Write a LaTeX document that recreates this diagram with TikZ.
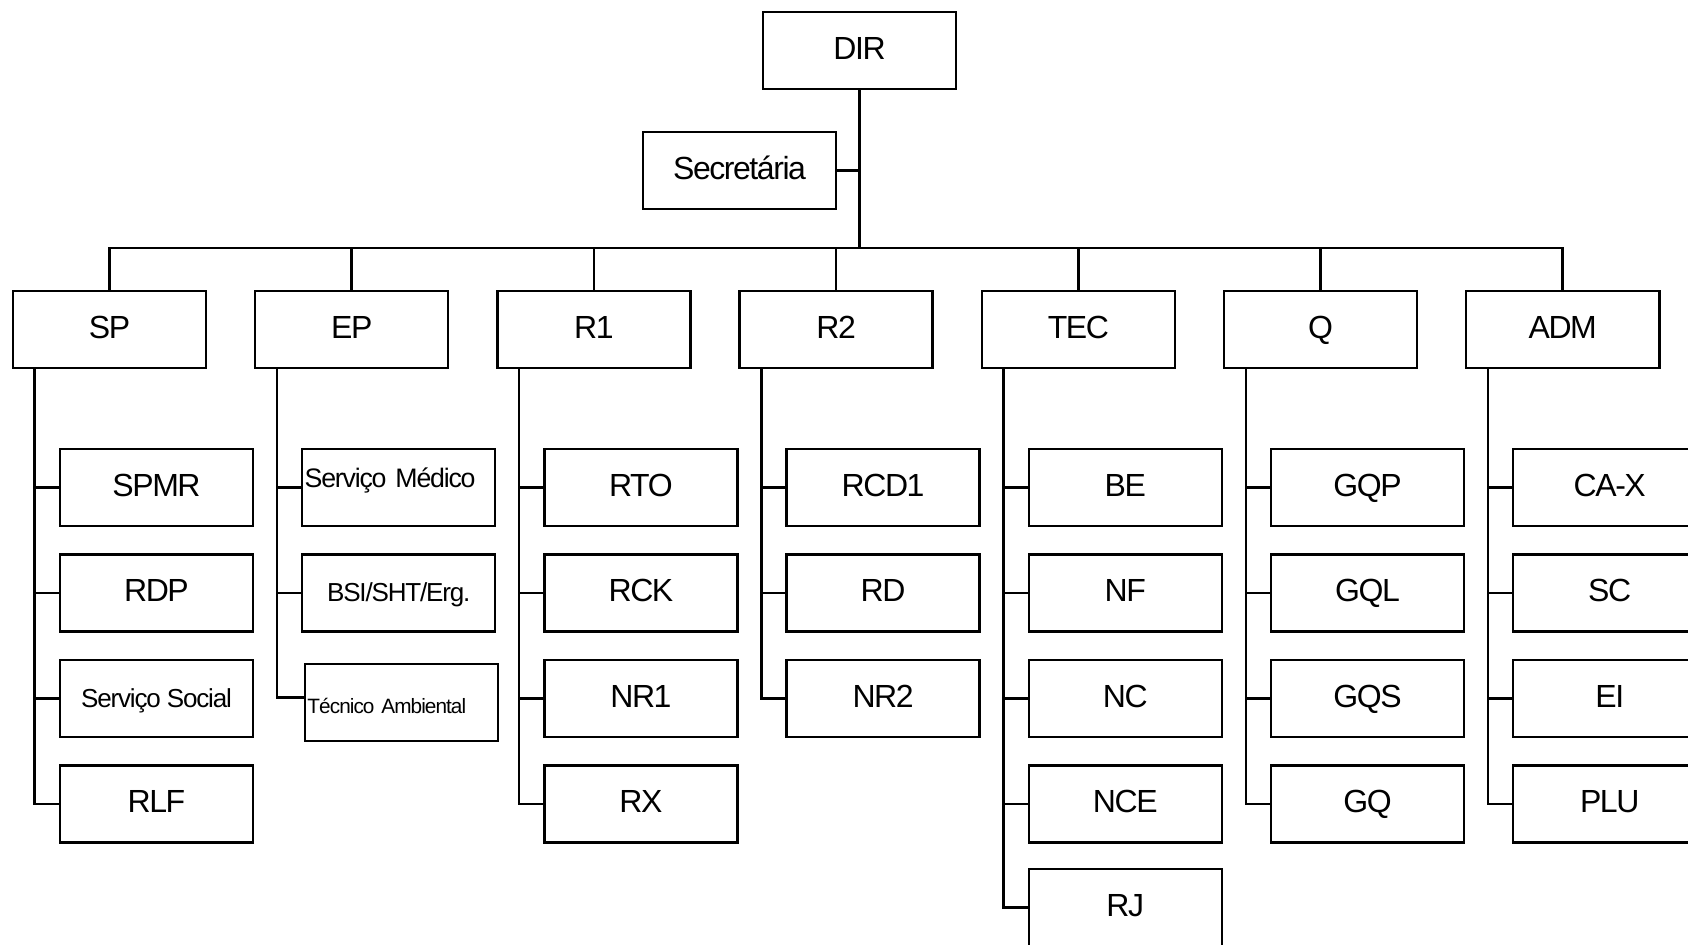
\documentclass[tikz,border=0pt]{standalone}
\usepackage{fontspec}
\setmainfont[LetterSpace=-4.5]{Liberation Sans}
\usetikzlibrary{calc}

\begin{document}
\begin{tikzpicture}[x=0.01cm, y=-0.01cm]
	\tikzstyle{chefia}=[rectangle, draw, line width=0.7pt, inner sep=0pt,
	minimum width=1.93cm, minimum height=0.77cm,
	text height=0.23cm, text depth=0.06cm,
	font=\fontsize{9.1}{10}\selectfont]
	\tikzstyle{ligacao}=[line width=0.7pt]
	
	\useasboundingbox (0,0) rectangle (1688,944);
	\clip (0,0) rectangle (1688,944);
	
	\node[chefia] at (859.5,50.5) (dir) {DIR};
	\node[chefia] at (739.5,170.5) (sec) {Secretária};
	\coordinate (bus) at (859.5,248);
	
	\node[chefia] at (109.5,329.5) (sp) {SP};
	\node[chefia] at (351.7,329.5) (ep) {EP};
	\node[chefia] at (593.9,329.5) (r1) {R1};
	\node[chefia] at (836.1,329.5) (r2) {R2};
	\node[chefia] at (1078.3,329.5) (tec) {TEC};
	\node[chefia] at (1320.5,329.5) (q) {Q};
	\node[chefia] at (1562.7,329.5) (adm) {ADM};
	
	\node[chefia] at (156.5,487.5) (spmr) {SPMR};
	\node[chefia] at (156.5,593) (rdp) {RDP};
	\node[chefia, font=\fontsize{7.4}{8}\selectfont] at (156.5,698.5) (servsocial) {Serviço Social};
	\node[chefia] at (156.5,804) (rlf) {RLF};
	
	\node[chefia, font=\fontsize{7.6}{8}\selectfont, text width=1.88cm, align=left,
	text height=0.2cm, text depth=0.21cm] at (398.7,487.5) (servmedico) {Serviço Médico};
	\node[chefia, font=\fontsize{7.4}{8}\selectfont] at (398.7,593) (bsi) {BSI/SHT/Erg.};
	\node[chefia, font=\fontsize{5.9}{7}\selectfont, text width=1.88cm, align=left,
	text height=0.23cm, text depth=0.02cm] at (401.5,702.5) (tecamb) {Técnico Ambiental};
	
	\node[chefia] at (640.9,487.5) (rto) {RTO};
	\node[chefia] at (640.9,593) (rck) {RCK};
	\node[chefia] at (640.9,698.5) (nr1) {NR1};
	\node[chefia] at (640.9,804) (rx) {RX};
	
	\node[chefia] at (883.1,487.5) (rcd1) {RCD1};
	\node[chefia] at (883.1,593) (rd) {RD};
	\node[chefia] at (883.1,698.5) (nr2) {NR2};
	
	\node[chefia] at (1125.3,487.5) (be) {BE};
	\node[chefia] at (1125.3,593) (nf) {NF};
	\node[chefia] at (1125.3,698.5) (nc) {NC};
	\node[chefia] at (1125.3,804) (nce) {NCE};
	\node[chefia] at (1125.3,907.5) (rj) {RJ};
	
	\node[chefia] at (1367.5,487.5) (gqp) {GQP};
	\node[chefia] at (1367.5,593) (gql) {GQL};
	\node[chefia] at (1367.5,698.5) (gqs) {GQS};
	\node[chefia] at (1367.5,804) (gq) {GQ};
	
	\node[chefia] at (1609.7,487.5) (cax) {CA-X};
	\node[chefia] at (1609.7,593) (sc) {SC};
	\node[chefia] at (1609.7,698.5) (ei) {EI};
	\node[chefia] at (1609.7,804) (plu) {PLU};
	
	% direccao
	\draw[ligacao] (dir.south) -- (bus);
	\draw[ligacao] (sec.east) -- (sec.east -| dir.south);
	\draw[ligacao] (sp.north) |- (bus);
	\draw[ligacao] (ep.north) |- (bus);
	\draw[ligacao] (r1.north) |- (bus);
	\draw[ligacao] (r2.north) |- (bus);
	\draw[ligacao] (tec.north) |- (bus);
	\draw[ligacao] (q.north) |- (bus);
	\draw[ligacao] (adm.north) |- (bus);
	
	% seccoes
	\draw[ligacao] (sp.south west) ++(23,0) |- (spmr.west);
	\draw[ligacao] (sp.south west) ++(23,0) |- (rdp.west);
	\draw[ligacao] (sp.south west) ++(23,0) |- (servsocial.west);
	\draw[ligacao] (sp.south west) ++(23,0) |- (rlf.west);
	
	\draw[ligacao] (ep.south west) ++(23,0) |- (servmedico.west);
	\draw[ligacao] (ep.south west) ++(23,0) |- (bsi.west);
	\draw[ligacao] (ep.south west) ++(23,0) |- ([yshift=0.05cm]tecamb.west);
	
	\draw[ligacao] (r1.south west) ++(23,0) |- (rto.west);
	\draw[ligacao] (r1.south west) ++(23,0) |- (rck.west);
	\draw[ligacao] (r1.south west) ++(23,0) |- (nr1.west);
	\draw[ligacao] (r1.south west) ++(23,0) |- (rx.west);
	
	\draw[ligacao] (r2.south west) ++(23,0) |- (rcd1.west);
	\draw[ligacao] (r2.south west) ++(23,0) |- (rd.west);
	\draw[ligacao] (r2.south west) ++(23,0) |- (nr2.west);
	
	\draw[ligacao] (tec.south west) ++(23,0) |- (be.west);
	\draw[ligacao] (tec.south west) ++(23,0) |- (nf.west);
	\draw[ligacao] (tec.south west) ++(23,0) |- (nc.west);
	\draw[ligacao] (tec.south west) ++(23,0) |- (nce.west);
	\draw[ligacao] (tec.south west) ++(23,0) |- (rj.west);
	
	\draw[ligacao] (q.south west) ++(23,0) |- (gqp.west);
	\draw[ligacao] (q.south west) ++(23,0) |- (gql.west);
	\draw[ligacao] (q.south west) ++(23,0) |- (gqs.west);
	\draw[ligacao] (q.south west) ++(23,0) |- (gq.west);
	
	\draw[ligacao] (adm.south west) ++(23,0) |- (cax.west);
	\draw[ligacao] (adm.south west) ++(23,0) |- (sc.west);
	\draw[ligacao] (adm.south west) ++(23,0) |- (ei.west);
	\draw[ligacao] (adm.south west) ++(23,0) |- (plu.west);
	
\end{tikzpicture}
\end{document}
